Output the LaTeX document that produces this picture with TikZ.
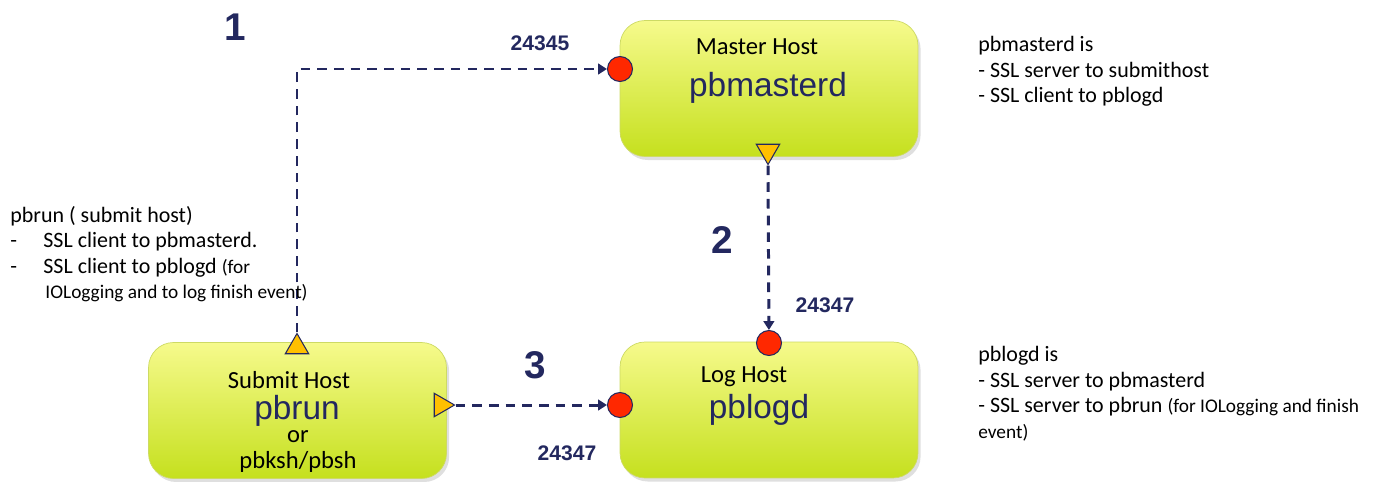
\documentclass[tikz,border=0pt]{standalone}
\usepackage{fontspec}
\setmainfont{Carlito}
\newfontfamily\arialfont{Liberation Sans}
\usetikzlibrary{arrows.meta,shapes.geometric,shadows}

\definecolor{navy}{RGB}{35,40,95}
\definecolor{boxtop}{RGB}{246,250,140}
\definecolor{boxbot}{RGB}{197,224,30}
\definecolor{boxedge}{RGB}{205,218,100}
\definecolor{portred}{RGB}{255,40,0}
\definecolor{portorange}{RGB}{255,192,0}

\tikzset{
	host/.style={draw=boxedge, rounded corners=0.5cm, top color=boxtop, bottom color=boxbot,
		drop shadow={opacity=0.25, shadow xshift=1.5pt, shadow yshift=-2pt},
		minimum width=5.96cm, minimum height=2.72cm},
	server/.style={circle, draw=navy, fill=portred, minimum size=0.5cm, inner sep=0pt, line width=0.6pt},
	client/.style={regular polygon, regular polygon sides=3, draw=navy, fill=portorange,
		minimum size=0.54cm, inner sep=0pt, line width=0.6pt},
	link/.style={draw=navy, line width=1.7pt, dash pattern=on 5.5pt off 4pt,
		-{Triangle[length=5pt,width=6pt]}},
	stepnum/.style={font=\arialfont\bfseries\fontsize{22}{26}\selectfont, text=navy},
	portnum/.style={font=\arialfont\bfseries\fontsize{12}{14}\selectfont, text=navy},
	daemon/.style={font=\arialfont\fontsize{19}{21}\selectfont, text=navy, inner sep=0pt},
	hostname/.style={font=\fontsize{14}{16}\selectfont, inner sep=0pt},
	note/.style={font=\fontsize{12.5}{14.5}\selectfont, align=left, anchor=north west, inner sep=0pt}
}

\begin{document}
\begin{tikzpicture}[x=0.02cm, y=-0.02cm]
	\useasboundingbox (0,0) rectangle (1374,481);
	
	% hosts
	\node[host] (master) at (769,88.5) {};
	\node[host] (log) at (769,410) {};
	\node[host] (submit) at (297.5,410.5) {};
	
	\node[hostname] (masterlbl) at (757,47) {Master Host};
	\node[daemon] (pbmasterd) at (768,88) {pbmasterd};
	\node[hostname] (loglbl) at (744,377) {Log Host};
	\node[daemon] (pblogd) at (759,410) {pblogd};
	\node[hostname] (submitlbl) at (289,380) {Submit Host};
	\node[daemon] (pbrun) at (297,411) {pbrun};
	\node[hostname] (orlbl) at (298,437) {or};
	\node[hostname] (pbksh) at (298,462) {pbksh/pbsh};
	
	% ports
	\node[server] (smaster) at (620,69) {};
	\node[server] (slogtop) at (769,343) {};
	\node[server] (slogleft) at (620,405) {};
	\node[client, regular polygon rotate=180] (cmaster) at (768,151) {};
	\node[client] (csubtop) at (297,347) {};
	\node[client, regular polygon rotate=-90] (csubright) at (441,405) {};
	
	% connections
	\draw[link] (csubtop.corner 1) |- (smaster);
	\draw[link] (cmaster.corner 1) -- (slogtop);
	\draw[link] (csubright.corner 1) -- (slogleft);
	
	\node[stepnum] (one) at (235,27) {1};
	\node[stepnum] (two) at (722,240) {2};
	\node[stepnum] (three) at (535,365) {3};
	\node[portnum] (p1) at (540,43) {24345};
	\node[portnum] (p2) at (825,305) {24347};
	\node[portnum] (p3) at (567,453) {24347};
	
	% notes
	\node[note] (masternote) at (978,36) {pbmasterd is\\- SSL server to submithost\\- SSL client to pblogd};
	\node[note] (lognote) at (978,346) {pblogd is\\- SSL server to pbmasterd\\
		- SSL server to pbrun {\fontsize{11}{13}\selectfont(for IOLogging and finish}\\
		{\fontsize{11}{13}\selectfont event)}};
	\node[note] (submitnote) at (10,206) {pbrun ( submit host)\\
		-\hspace{1.2em}SSL client to pbmasterd.\\
		-\hspace{1.2em}SSL client to pblogd {\fontsize{11}{13}\selectfont(for}\\
		\hspace{1.6em}{\fontsize{11}{13}\selectfont IOLogging and to log finish event)}};
\end{tikzpicture}
\end{document}
